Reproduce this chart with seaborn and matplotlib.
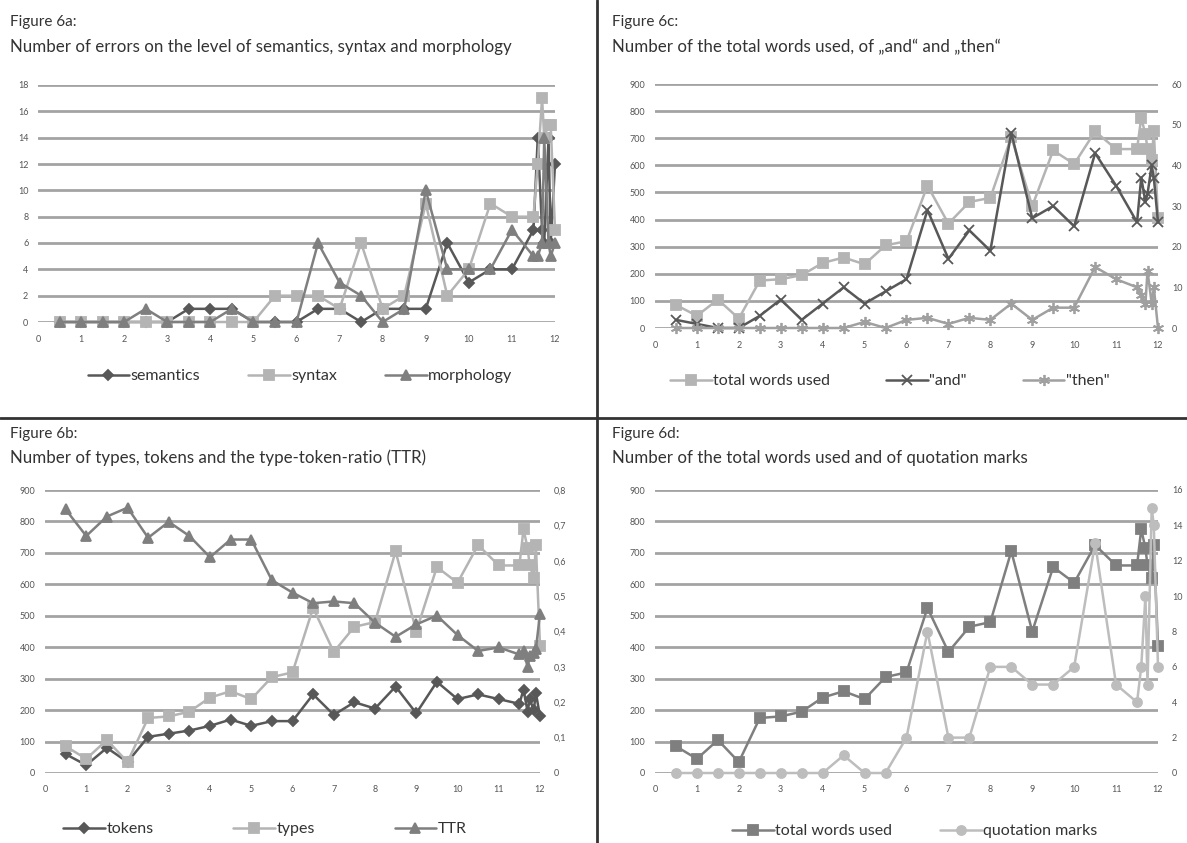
import numpy as np
import matplotlib.pyplot as plt
from matplotlib.lines import Line2D
import seaborn as sns

# ages / measurement points (shared by all four panels)
ages = [0.5, 1, 1.5, 2, 2.5, 3, 3.5, 4, 4.5, 5, 5.5, 6, 6.5, 7, 7.5, 8, 8.5, 9, 9.5,
        10, 10.5, 11, 11.5, 11.6, 11.7, 11.75, 11.85, 11.9, 12.0]

# figure 6a
semantics = [0, 0, 0, 0, 0, 0, 1, 1, 1, 0, 0, 0, 1, 1, 0, 1, 1, 1, 6, 3, 4, 4, 7, 14, 7, 6, 14, 6, 12]
syntax = [0, 0, 0, 0, 0, 0, 0, 0, 0, 0, 2, 2, 2, 1, 6, 1, 2, 9, 2, 4, 9, 8, 8, 12, 17, 14, 15, 15, 7]
morphology = [0, 0, 0, 0, 1, 0, 0, 0, 1, 0, 0, 0, 6, 3, 2, 0, 1, 10, 4, 4, 4, 7, 5, 5, 6, 14, 6, 5, 6]

# figure 6b
tokens = [60, 25, 80, 35, 115, 125, 135, 150, 170, 150, 165, 165, 250, 185, 225, 205, 275, 190, 290,
          235, 250, 235, 220, 265, 195, 235, 200, 255, 180]
types = [85, 45, 105, 35, 175, 180, 195, 240, 260, 235, 305, 320, 525, 385, 465, 480, 705, 450, 655,
         605, 725, 660, 660, 775, 715, 660, 620, 725, 405]
ttr = [0.745, 0.67, 0.725, 0.75, 0.665, 0.71, 0.67, 0.61, 0.66, 0.66, 0.545, 0.51, 0.48, 0.485, 0.48,
       0.425, 0.385, 0.42, 0.445, 0.39, 0.345, 0.355, 0.335, 0.345, 0.30, 0.33, 0.34, 0.35, 0.45]

# figure 6c / 6d
total_words = types
and_count = [2, 1, 0, 0, 3, 7, 2, 6, 10, 6, 9, 12, 29, 17, 24, 19, 48, 27, 30, 25, 43, 35, 26,
             37, 31, 33, 40, 37, 26]
then_count = [0, 0, 0, 0, 0, 0, 0, 0, 0, 1.5, 0, 2, 2.5, 1, 2.5, 2, 6, 2, 5, 5, 15, 12, 10,
              8, 6, 14, 6, 10, 0]
quotes = [0, 0, 0, 0, 0, 0, 0, 0, 1, 0, 0, 2, 8, 2, 2, 6, 6, 5, 5, 6, 13, 5, 4, 6, 10, 5, 15, 14, 6]

sns.set_theme(style='white')
plt.rcParams['font.family'] = ['Lato', 'DejaVu Sans']

W, H = 1187, 843
fig = plt.figure(figsize=(W / 100, H / 100), dpi=100)


def box(l, r, t, b):
    return [l / W, 1 - b / H, (r - l) / W, (b - t) / H]


def style(ax, ymax, ystep):
    ax.set_xlim(0, 12)
    ax.set_ylim(0, ymax)
    ax.set_xticks(range(13))
    ax.set_yticks(np.arange(0, ymax + ystep / 2, ystep))
    ax.grid(axis='y', color='#a3a3a3', lw=2)
    ax.grid(axis='x', visible=False)
    for s in ax.spines.values():
        s.set_visible(False)
    ax.tick_params(length=0, labelsize=6.5, colors='#555555')
    ax.tick_params(axis='x', pad=9)
    ax.tick_params(axis='y', pad=7)
    ax.set_xlabel('')
    ax.set_ylabel('')


def right_axis(ax, ymax, ystep, labels=None):
    ax2 = ax.twinx()
    ax2.set_ylim(0, ymax)
    ticks = np.arange(0, ymax + ystep / 2, ystep)
    ax2.set_yticks(ticks)
    if labels is not None:
        ax2.set_yticklabels(labels)
    ax2.grid(False)
    for s in ax2.spines.values():
        s.set_visible(False)
    ax2.tick_params(length=0, labelsize=6.5, colors='#555555', pad=10)
    return ax2


def line(ax, y, color, marker, label, ms=6):
    sns.lineplot(x=ages, y=y, ax=ax, color=color, marker=marker, markersize=ms,
                 markeredgecolor=color, markerfacecolor=color, markeredgewidth=1.3,
                 lw=1.8, label=label, sort=False, estimator=None, clip_on=False)
    if ax.get_legend():
        ax.get_legend().remove()


def legend(axes, cx, cy, spacing=3):
    handles, labels = [], []
    for a in axes:
        h, l = a.get_legend_handles_labels()
        handles += h
        labels += l
    fig.legend(handles, labels, loc='center', bbox_to_anchor=(cx / W, 1 - cy / H), ncol=len(labels),
               frameon=False, fontsize=11.5, handlelength=2.6, columnspacing=spacing,
               handletextpad=0.1, labelcolor='#333333')


star = (6, 2, 0)
dark, mid, light = '#585858', '#7f7f7f', '#b4b4b4'

# ---- Figure 6a
axa = fig.add_axes(box(38, 555, 85, 322))
line(axa, semantics, dark, 'D', 'semantics', 5.5)
line(axa, syntax, light, 's', 'syntax', 7)
line(axa, morphology, mid, '^', 'morphology', 6.5)
style(axa, 18, 2)
legend([axa], 300, 376)

# ---- Figure 6c
axc = fig.add_axes(box(655, 1158, 84, 328))
line(axc, total_words, light, 's', 'total words used', 7)
style(axc, 900, 100)
axc2 = right_axis(axc, 60, 10)
line(axc2, and_count, dark, 'x', '"and"', 7)
line(axc2, then_count, '#a0a0a0', star, '"then"', 8)
legend([axc, axc2], 890, 381, 3.5)

# ---- Figure 6b
axb = fig.add_axes(box(45, 540, 490, 773))
line(axb, tokens, dark, 'D', 'tokens', 5.5)
line(axb, types, light, 's', 'types', 7)
style(axb, 900, 100)
axb2 = right_axis(axb, 0.8, 0.1, ['0', '0,1', '0,2', '0,3', '0,4', '0,5', '0,6', '0,7', '0,8'])
line(axb2, ttr, mid, '^', 'TTR', 6.5)
legend([axb, axb2], 265, 829, 5)

# ---- Figure 6d
axd = fig.add_axes(box(655, 1158, 490, 773))
line(axd, total_words, mid, 's', 'total words used', 7)
style(axd, 900, 100)
axd2 = right_axis(axd, 16, 2)
line(axd2, quotes, '#bdbdbd', 'o', 'quotation marks', 6.5)
legend([axd, axd2], 915, 831, 3)

# titles
titles = [
    (10, 22, 'Figure 6a:'), (10, 47, 'Number of errors on the level of semantics, syntax and morphology'),
    (612, 22, 'Figure 6c:'), (612, 47, 'Number of the total words used, of \u201eand\u201c and \u201ethen\u201c'),
    (10, 434, 'Figure 6b:'), (10, 458, 'Number of types, tokens and the type-token-ratio (TTR)'),
    (612, 434, 'Figure 6d:'), (612, 458, 'Number of the total words used and of quotation marks'),
]
for i, (x, y, t) in enumerate(titles):
    fs = 11 if i % 2 == 0 else 12.2
    fig.text(x / W, 1 - y / H, t, ha='left', va='center', fontsize=fs, color='#333333')

# panel dividers
fig.add_artist(Line2D([597 / W, 597 / W], [0, 1], color='#333333', lw=2))
fig.add_artist(Line2D([0, 1], [1 - 418 / H, 1 - 418 / H], color='#333333', lw=2))

fig.savefig('out.png', dpi=100)
